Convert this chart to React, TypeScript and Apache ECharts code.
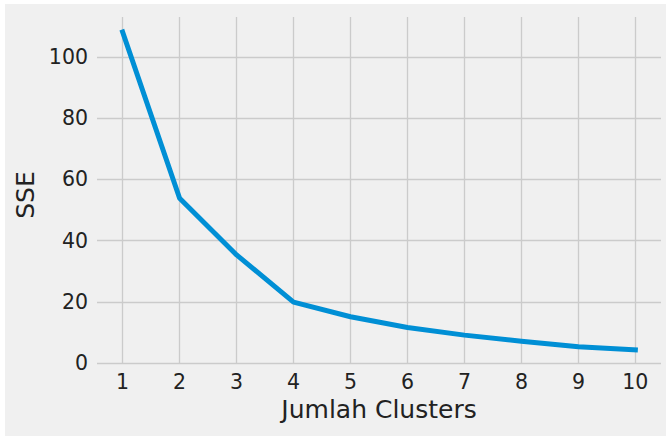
import React, { useEffect, useRef } from "react";
import * as echarts from "echarts";

const clusters = [1, 2, 3, 4, 5, 6, 7, 8, 9, 10];
const sse = [108.1, 53.8, 35.3, 19.9, 15.1, 11.6, 9.1, 7.1, 5.3, 4.3];

export default function App() {
  const ref = useRef<HTMLDivElement>(null);
  useEffect(() => {
    if (!ref.current) return;
    const chart = echarts.init(ref.current, null, { renderer: "svg" });
    const font = "DejaVu Sans";
    chart.setOption({
      animation: false,
      backgroundColor: "#ffffff",
      graphic: [
        {
          type: "rect",
          z: -10,
          silent: true,
          shape: { x: 5, y: 4, width: 661, height: 432 },
          style: { fill: "#f0f0f0" },
        },
      ],
      grid: { left: 97, right: 5, top: 17, bottom: 73, containLabel: false },
      xAxis: {
        type: "value",
        min: 0.55,
        max: 10.45,
        minInterval: 1,
        maxInterval: 1,
        splitNumber: 10,
        name: "Jumlah Clusters",
        nameLocation: "middle",
        nameGap: 33,
        nameTextStyle: { fontFamily: font, fontSize: 25, color: "#222" },
        axisLine: { show: false },
        axisTick: { show: false },
        axisLabel: {
          showMinLabel: false,
          showMaxLabel: false,
          margin: 8,
          fontFamily: font,
          fontSize: 20.5,
          color: "#222",
        },
        splitLine: {
          show: true,
          showMinLine: false,
          showMaxLine: false,
          lineStyle: { color: "#cbcbcb", width: 1.3 },
        },
      },
      yAxis: {
        type: "value",
        min: 0,
        max: 113,
        minInterval: 20,
        maxInterval: 20,
        name: "SSE",
        nameLocation: "middle",
        nameGap: 59,
        nameTextStyle: {
          fontFamily: font,
          fontSize: 25,
          color: "#222",
          padding: [0, 10, 0, 0],
        },
        axisLine: { show: false },
        axisTick: { show: false },
        axisLabel: {
          showMaxLabel: false,
          margin: 9,
          fontFamily: font,
          fontSize: 20.5,
          color: "#222",
        },
        splitLine: {
          show: true,
          showMaxLine: false,
          lineStyle: { color: "#cbcbcb", width: 1.3 },
        },
      },
      series: [
        {
          type: "line",
          data: clusters.map((c, i) => [c, sse[i]]),
          showSymbol: false,
          symbol: "none",
          lineStyle: { color: "#008fd5", width: 5, cap: "square", join: "round" },
        },
      ],
    });
    return () => chart.dispose();
  }, []);
  return (
    <div
      ref={ref}
      style={{ position: "absolute", left: 0, top: 0, width: 666, height: 436 }}
    />
  );
}
